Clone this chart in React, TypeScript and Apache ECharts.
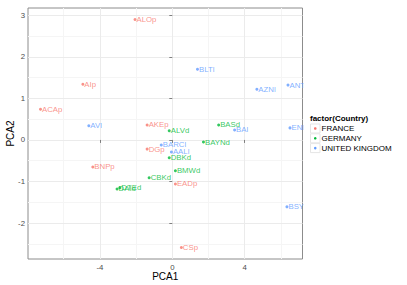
import React, { useEffect, useRef } from "react";
import * as echarts from "echarts";

const countries = ["FRANCE", "GERMANY", "UNITED KINGDOM"];
const colors = ["#F8766D", "#00BA38", "#619CFF"];

const franceNames = ["ALOp", "AIp", "ACAp", "AKEp", "DGp", "BNPp", "EADp", "CSp"];
const franceX = [-2.06, -4.94, -7.28, -1.39, -1.39, -4.39, 0.17, 0.5];
const franceY = [2.9, 1.34, 0.74, 0.36, -0.22, -0.65, -1.06, -2.59];

const germanyNames = ["ALVd", "BASd", "BAYNd", "DBKd", "BMWd", "CBKd", "DAId", "DTEd"];
const germanyX = [-0.17, 2.56, 1.72, -0.17, 0.17, -1.28, -3.05, -2.9];
const germanyY = [0.22, 0.36, -0.05, -0.43, -0.74, -0.91, -1.18, -1.15];

const ukNames = ["BLTl", "AZNl", "ANT", "AVl", "BAl", "ENI", "BARCl", "AALl", "BSY"];
const ukX = [1.39, 4.67, 6.39, -4.61, 3.44, 6.5, -0.61, -0.05, 6.33];
const ukY = [1.7, 1.22, 1.32, 0.34, 0.24, 0.29, -0.12, -0.29, -1.61];

const xMajor = [-4, 0, 4];
const xMinor = [-6, -2, 2, 6];
const yMajor = [-2, -1, 0, 1, 2, 3];
const yMinor = [-2.5, -1.5, -0.5, 0.5, 1.5, 2.5];

const xRange = [-7.97, 7.19];
const yRange = [-2.865, 3.175];

const FONT = "'Liberation Sans', Arial, Helvetica, sans-serif";

export default function App() {
  const ref = useRef<HTMLDivElement>(null);
  useEffect(() => {
    if (!ref.current) return;
    const chart = echarts.init(ref.current, undefined, { renderer: "svg" });
    const groups = [
      { names: franceNames, xs: franceX, ys: franceY },
      { names: germanyNames, xs: germanyX, ys: germanyY },
      { names: ukNames, xs: ukX, ys: ukY },
    ];
    const series: any[] = groups.map((g, i) => ({
      type: "scatter",
      name: countries[i],
      xAxisIndex: 0,
      yAxisIndex: 0,
      symbolSize: 3,
      itemStyle: { color: colors[i] },
      data: g.names.map((n, j) => ({ name: n, value: [g.xs[j], g.ys[j]] })),
      label: {
        show: true,
        position: "right",
        distance: 0,
        offset: [0, -3],
        formatter: "{b}",
        color: colors[i],
        fontSize: 7.8,
        fontFamily: FONT,
      },
      labelLayout: { hideOverlap: false },
      z: 5,
    }));

    const legendTop = 114;
    const rowH = 9.8;
    const legendGraphics: any[] = [
      {
        type: "rect",
        shape: { x: 303.5, y: 0, width: 104, height: 285 },
        style: { fill: "#ffffff" },
        z: 50,
        silent: true,
      },
      {
        type: "text",
        x: 310,
        y: legendTop,
        style: {
          text: "factor(Country)",
          fontSize: 8,
          fontWeight: "bold",
          fontFamily: FONT,
          fill: "#000",
        },
        z: 60,
      },
    ];
    countries.forEach((c, i) => {
      const top = legendTop + 9.5 + i * rowH;
      legendGraphics.push({
        type: "rect",
        shape: { x: 310.5, y: top + 0.5, width: 9.5, height: 9 },
        style: { fill: "#ffffff", stroke: "#E5E5E5", lineWidth: 1 },
        z: 60,
      });
      legendGraphics.push({
        type: "circle",
        shape: { cx: 315.25, cy: top + 5, r: 1.3 },
        style: { fill: colors[i] },
        z: 61,
      });
      legendGraphics.push({
        type: "text",
        x: 321.5,
        y: top + 5,
        style: {
          text: c,
          fontSize: 8,
          fontFamily: FONT,
          fill: "#000",
          verticalAlign: "middle",
        },
        z: 61,
      });
    });

    const option: any = {
      animation: false,
      backgroundColor: "#ffffff",
      textStyle: { fontFamily: FONT },
      grid: {
        left: 28,
        top: 8,
        width: 274.5,
        height: 251,
        show: true,
        containLabel: false,
        outerBoundsMode: "none",
        backgroundColor: "#ffffff",
        borderColor: "#8C8C8C",
        borderWidth: 1,
        z: 0,
      },
      xAxis: [
        {
          type: "value",
          min: xRange[0],
          max: xRange[1],
          name: "PCA1",
          nameLocation: "middle",
          nameGap: 12.5,
          nameMoveOverlap: false,
          nameTextStyle: { fontSize: 10, color: "#000", fontFamily: FONT },
          axisLine: { show: false },
          axisTick: {
            show: true,
            customValues: xMajor,
            length: 3,
            lineStyle: { color: "#7F7F7F" },
          },
          axisLabel: {
            customValues: xMajor,
            fontSize: 7.8,
            color: "#4D4D4D",
            margin: 4,
            fontFamily: FONT,
          },
          splitLine: { show: true, lineStyle: { color: "#EBEBEB", width: 1 } },
          z: 2,
        },
        {
          type: "value",
          min: xRange[0],
          max: xRange[1],
          position: "top",
          axisLine: { show: false },
          axisTick: { show: false, customValues: xMinor },
          axisLabel: { show: false, customValues: xMinor },
          splitLine: { show: true, lineStyle: { color: "#F5F5F5", width: 1 } },
          z: 1,
        },
      ],
      yAxis: [
        {
          type: "value",
          min: yRange[0],
          max: yRange[1],
          name: "PCA2",
          nameLocation: "middle",
          nameGap: 13,
          nameRotate: 90,
          nameMoveOverlap: false,
          nameTextStyle: { fontSize: 10, color: "#000", fontFamily: FONT },
          axisLine: { show: false },
          axisTick: {
            show: true,
            customValues: yMajor,
            length: 3,
            lineStyle: { color: "#7F7F7F" },
          },
          axisLabel: {
            customValues: yMajor,
            fontSize: 7.8,
            color: "#4D4D4D",
            margin: 3,
            fontFamily: FONT,
          },
          splitLine: { show: true, lineStyle: { color: "#EBEBEB", width: 1 } },
          z: 2,
        },
        {
          type: "value",
          min: yRange[0],
          max: yRange[1],
          position: "right",
          axisLine: { show: false },
          axisTick: { show: false, customValues: yMinor },
          axisLabel: { show: false, customValues: yMinor },
          splitLine: { show: true, lineStyle: { color: "#F5F5F5", width: 1 } },
          z: 1,
        },
      ],
      series,
      graphic: legendGraphics,
    };
    chart.setOption(option);
    return () => chart.dispose();
  }, []);
  return (
    <div
      ref={ref}
      style={{ position: "fixed", left: 0, top: 0, width: 407, height: 285 }}
    />
  );
}
